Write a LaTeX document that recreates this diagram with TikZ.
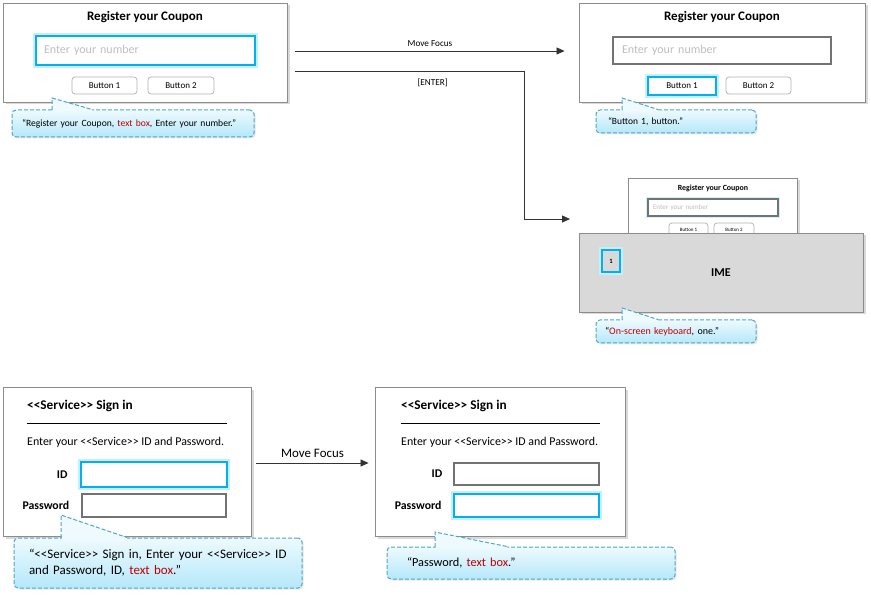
\documentclass[tikz,border=0pt]{standalone}
\usepackage{fontspec}
\setmainfont{Carlito}
\usepackage{xcolor}
\usepackage{tikz}
\usetikzlibrary{arrows.meta,positioning,shadows,calc}
\definecolor{hl}{HTML}{00B0F0}
\definecolor{calltop}{HTML}{EEFAFE}
\definecolor{callbot}{HTML}{B5E8FA}
\definecolor{callline}{HTML}{4BA6C8}
\definecolor{sayred}{HTML}{C00000}
\definecolor{ph}{HTML}{BFBFBF}
\definecolor{imegray}{HTML}{D9D9D9}
\newcommand{\fsz}[1]{\fontsize{#1}{#1}\selectfont}
\newcommand{\svc}{<\kern0pt<Service>\kern0pt>}
\newcommand{\said}[1]{\textcolor{sayred}{#1}}
% tail of a speech bubble: #1 bubble node, #2 tip, #3 base width
\newcommand{\tail}[3]{%
  \fill[calltop] (#2) -- ($(#2 |- #1.north)+(0.7,1.6)$) -- ($(#2 |- #1.north)+(#3,1.6)$)
    -- ($(#2 |- #1.north)+(#3,0)$) -- cycle;
  \draw[tailline] ($(#2 |- #1.north)+(0,0.5)$) -- (#2) -- ($(#2 |- #1.north)+(#3,0)$);}

\begin{document}
\begin{tikzpicture}[
  x=1pt, y=-1pt,
  panel/.style={draw=black!45, line width=0.9pt, fill=white, inner sep=0pt,
                drop shadow={shadow xshift=2.5pt, shadow yshift=-2.5pt, opacity=.3}},
  field/.style={draw=black!55, line width=1.2pt, fill=white, inner sep=0pt},
  focus/.style={draw=hl, line width=2.6pt, fill=white, inner sep=0pt,
                preaction={draw=hl!22, line width=6pt}},
  btn/.style={draw=black!30, line width=0.7pt, rounded corners=3pt, fill=white, inner sep=0pt, font=\fsz{9}},
  callout/.style={draw=callline, dash pattern=on 4pt off 2pt, line width=1pt,
                  rounded corners=4pt, top color=calltop, bottom color=callbot,
                  inner xsep=10pt, inner ysep=0pt, align=left,
                  drop shadow={shadow xshift=1.5pt, shadow yshift=-1.5pt, opacity=.2}},
  tailline/.style={draw=callline, dash pattern=on 4pt off 2pt, line width=1pt},
  lbl/.style={font=\fsz{11.8}\bfseries, inner sep=0pt},
  rule/.style={draw=black, line width=1pt},
  conn/.style={draw=black!80, line width=0.8pt, ->},
  >={Triangle[length=8pt,width=7pt]},
]
\useasboundingbox (0,0) rectangle (871,596);

% register coupon, text box focused
\node[panel, minimum width=284pt, minimum height=99pt] (p1) at (145,52.5) {};
\node[font=\fsz{13}\bfseries] (t1) at (145,17) {Register your Coupon};
\node[focus, minimum width=219pt, minimum height=29pt, text width=203pt, inner xsep=8pt,
      align=left, text=ph, font=\fsz{12}] (f1) at (145.5,50.5) {Enter your number};
\node[btn, minimum width=65pt, minimum height=17pt] (b1) at (104.5,85.5) {Button 1};
\node[btn, minimum width=66pt, minimum height=17pt] (b2) at (181,85.5) {Button 2};

% register coupon, button focused
\node[panel, minimum width=286pt, minimum height=99pt] (p2) at (722,52.5) {};
\node[font=\fsz{13}\bfseries] (t2) at (722,17) {Register your Coupon};
\node[field, minimum width=218pt, minimum height=27pt, text width=200pt, inner xsep=9pt,
      align=left, text=ph, font=\fsz{12}] (f2) at (722,50.5) {Enter your number};
\node[btn, focus, rounded corners=0pt, minimum width=68pt, minimum height=18pt] (b3) at (682,86) {Button 1};
\node[btn, minimum width=65pt, minimum height=17pt] (b4) at (758.5,85.5) {Button 2};

% register coupon behind the keyboard
\node[panel, minimum width=169pt, minimum height=62pt] (p3) at (712.5,209) {};
\node[font=\fsz{7.9}\bfseries] (t3) at (713,188) {Register your Coupon};
\node[field, line width=1.5pt, preaction={draw=hl!18, line width=4pt}, minimum width=130pt,
      minimum height=17pt, text width=120pt, inner xsep=5pt, align=left, text=ph,
      font=\fsz{7}] (f3) at (713,207.5) {Enter your number};
\node[btn, font=\fsz{5}, minimum width=39pt, minimum height=13pt] (b5) at (688.5,229.5) {Button 1};
\node[btn, font=\fsz{5}, minimum width=40pt, minimum height=13pt] (b6) at (734,229.5) {Button 2};
\node[panel, fill=imegray, minimum width=284pt, minimum height=79pt, font=\fsz{12}\bfseries]
      (ime) at (721,272.5) {IME};
\node[focus, fill=imegray, minimum width=18pt, minimum height=22pt, font=\fsz{6.5}\bfseries]
      (k1) at (611,261) {1};

% sign in, ID focused
\node[panel, minimum width=248pt, minimum height=149pt] (p4) at (127,461.5) {};
\node[anchor=west, font=\fsz{13.3}\bfseries, inner sep=0pt] (t4) at (27,406) {\svc{} Sign in};
\draw[rule] ($(p4.north west)+(24,37)$) -- ++(200,0);
\node[anchor=west, font=\fsz{11.9}, inner sep=0pt] (s4) at (27,442) {Enter your \svc{} ID and Password.};
\node[focus, minimum width=146pt, minimum height=25pt] (id1) at (154,474.5) {};
\node[field, minimum width=144pt, minimum height=23pt] (pw1) at (154,505.5) {};
\node[lbl, left=12pt of id1] (il1) {ID};
\node[lbl, left=12pt of pw1] (pl1) {Password};

% sign in, password focused
\node[panel, minimum width=250pt, minimum height=149pt] (p5) at (500,461.5) {};
\node[anchor=west, font=\fsz{13.3}\bfseries, inner sep=0pt] (t5) at (401,406) {\svc{} Sign in};
\draw[rule] ($(p5.north west)+(26,37)$) -- ++(199,0);
\node[anchor=west, font=\fsz{11.9}, inner sep=0pt] (s5) at (401,442) {Enter your \svc{} ID and Password.};
\node[field, minimum width=145pt, minimum height=22pt] (id2) at (526.5,474) {};
\node[focus, minimum width=145pt, minimum height=23pt] (pw2) at (526.5,505.5) {};
\node[lbl, left=11pt of id2] (il2) {ID};
\node[lbl, left=11pt of pw2] (pl2) {Password};

% what the screen reader says
\node[callout, minimum height=27pt, text width=222pt, font=\fsz{9.6}] (c1) at (133,123.5)
      {“Register your Coupon, \said{text box}, Enter your number.”};
\node[callout, minimum height=23pt, text width=136pt, inner xsep=12pt, font=\fsz{9.5}] (c2) at (676,121.5)
      {“Button 1, button.”};
\node[callout, minimum height=23pt, text width=142pt, inner xsep=9pt, font=\fsz{10}] (c3) at (676,331.5)
      {“\said{On-screen keyboard}, one.”};
\node[callout, minimum height=50pt, text width=258pt, inner xsep=15pt, font=\fontsize{13}{16}\selectfont]
      (c4) at (158,563) {“\svc{} Sign in, Enter your \svc{} ID\\ and Password, ID, \said{text box}.”};
\node[callout, minimum height=32pt, text width=248pt, inner xsep=20pt, font=\fsz{12.3}] (c5) at (531,563)
      {“Password, \said{text box}.”};
\coordinate (tip1) at (52,98);
\coordinate (tip2) at (622,98);
\coordinate (tip3) at (622,308);
\coordinate (tip4) at (61,515);
\coordinate (tip5) at (435,532);
\tail{c1}{tip1}{40}
\tail{c2}{tip2}{36}
\tail{c3}{tip3}{36}
\tail{c4}{tip4}{66}
\tail{c5}{tip5}{72}

% transitions
\coordinate (kb) at (570,219);
\draw[conn] ([xshift=8pt,yshift=1.5pt]p1.east) -- ([xshift=-14pt,yshift=1.5pt]p2.west)
      node[midway, above=3pt, inner sep=1pt, font=\fsz{9.2}] {Move Focus};
\draw[conn] ([xshift=8pt,yshift=-18.5pt]p1.east)
      -| node[pos=0.3, below=6pt, inner sep=1pt, font=\fsz{9.2}] {[ENTER]} ([xshift=-46pt]kb) -- (kb);
\draw[conn] ([xshift=5pt,yshift=-1.5pt]p4.east) -- ([xshift=-6pt,yshift=-1.5pt]p5.west)
      node[midway, above=4pt, inner sep=1pt, font=\fsz{12.9}] {Move Focus};
\end{tikzpicture}
\end{document}
